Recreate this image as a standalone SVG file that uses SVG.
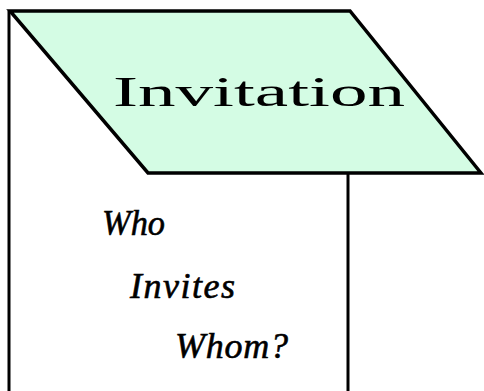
<svg xmlns="http://www.w3.org/2000/svg" width="484" height="391" viewBox="0 0 484 391">
<style>
.ln{stroke:#000;stroke-width:3;fill:none}
.it{font-style:italic;font-size:36px;fill:#000;stroke:#000;stroke-width:0.6}
.tt{font-size:42px;fill:#000}
</style>
<rect width="484" height="391" fill="#fff"/>
<g id="connectors">
<line class="ln" x1="9" y1="11" x2="9" y2="391"/>
<line class="ln" x1="348" y1="173" x2="348" y2="391"/>
</g>
<g id="invitation">
<polygon points="10,11 350,11 481,173 148,173" fill="#d4fce4" stroke="#000" stroke-width="3.5" stroke-linejoin="miter"/>
<text class="tt" font-family="'Liberation Serif', serif" x="113" y="106" textLength="292" lengthAdjust="spacingAndGlyphs">Invitation</text>
</g>
<g id="question">
<text class="it" font-family="'Liberation Serif', serif" x="102" y="235" textLength="63" lengthAdjust="spacingAndGlyphs">Who</text>
<text class="it" font-family="'Liberation Serif', serif" x="130" y="298" textLength="105" lengthAdjust="spacing">Invites</text>
<text class="it" font-family="'Liberation Serif', serif" x="175" y="358" textLength="113" lengthAdjust="spacing">Whom?</text>
</g>
</svg>
